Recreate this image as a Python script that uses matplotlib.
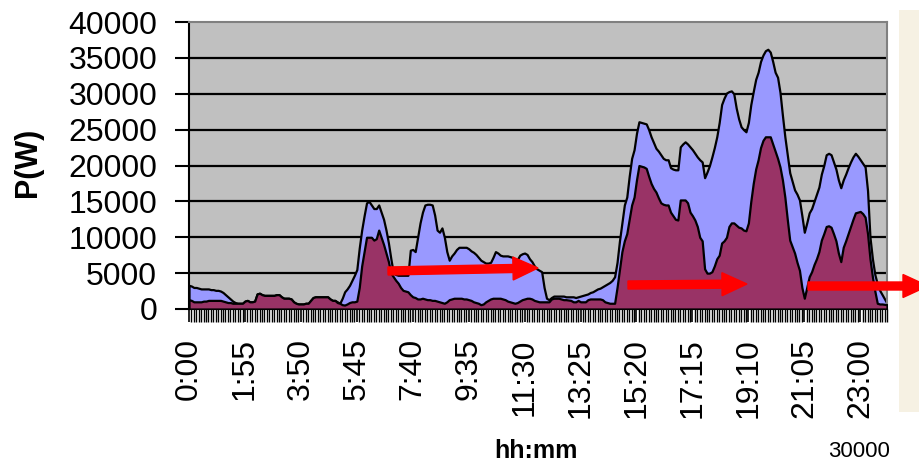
import matplotlib
matplotlib.use("Agg")
import matplotlib.pyplot as plt
from matplotlib.patches import FancyArrow, Rectangle
from matplotlib.transforms import IdentityTransform
import numpy as np

plt.rcParams['font.family'] = ['Liberation Sans', 'DejaVu Sans']

# 5-minute samples over one day
times = ['%d:%02d' % (m // 60, m % 60) for m in range(0, 1440, 5)]

total = [
    3300, 3200, 3000, 3000, 2900, 2800, 2800, 2800, 2800, 2700, 2700, 2600,
    2600, 2500, 2300, 2000, 1700, 1400, 1100, 900, 800, 800, 800, 1100,
    1200, 1000, 1000, 1100, 2100, 2200, 2000, 1900, 1900, 1900, 1900, 1900,
    2000, 2000, 1700, 1500, 1500, 1500, 1400, 1000, 800, 700, 700, 700,
    800, 800, 1200, 1600, 1700, 1700, 1700, 1700, 1700, 1700, 1400, 1200,
    1200, 1000, 800, 1500, 2400, 2800, 3300, 4000, 4700, 5500, 8500, 11000,
    13000, 14800, 15000, 14500, 14000, 14000, 14500, 13500, 12500, 11000, 9200, 7000,
    5000, 4800, 4700, 4700, 4700, 4700, 4700, 8200, 8300, 8000, 10000, 12000,
    13500, 14500, 14600, 14600, 14500, 13100, 11000, 10700, 11300, 10000, 8000, 6800,
    7400, 7800, 8300, 8600, 8600, 8600, 8600, 8400, 8100, 7900, 7600, 7200,
    6800, 6600, 6400, 6400, 6500, 7200, 8000, 7800, 7500, 7400, 7400, 7400,
    7300, 7200, 6800, 6900, 7500, 7700, 7800, 7600, 7000, 6600, 6000, 5600,
    5400, 5200, 3000, 1500, 1300, 1600, 1800, 1800, 1800, 1800, 1800, 1700,
    1700, 1700, 1700, 1600, 1700, 1800, 1900, 2000, 2100, 2300, 2400, 2600,
    2800, 2900, 3100, 3300, 3500, 3700, 4000, 4500, 6500, 9500, 12000, 14500,
    15600, 18500, 21000, 22200, 24500, 26100, 26000, 25900, 25800, 25000, 24000, 23200,
    22400, 22000, 21500, 21000, 20800, 20800, 19700, 19500, 19400, 19400, 22600, 23000,
    23300, 23000, 22600, 22200, 21700, 21200, 20800, 20500, 18300, 19100, 20000, 21200,
    22500, 24000, 26000, 28500, 29400, 30100, 30300, 30400, 30000, 28000, 26500, 25400,
    25000, 24700, 26000, 28500, 30300, 32000, 33000, 34500, 35400, 36000, 36200, 35800,
    34500, 33000, 32300, 30200, 27000, 24000, 21500, 19000, 17800, 16600, 16000, 15200,
    13000, 10700, 12000, 13400, 14000, 15000, 16000, 17000, 18800, 20000, 21500, 21700,
    21500, 20500, 19500, 18000, 16900, 18000, 18800, 19700, 20500, 21200, 21700, 21300,
    20800, 20300, 19800, 16500, 10000, 7000, 4800, 3500, 2600, 2000, 1400, 800,
]

part = [
    1300, 1200, 1000, 1000, 1000, 1000, 1100, 1100, 1200, 1200, 1200, 1200,
    1200, 1200, 1100, 1000, 900, 900, 800, 800, 800, 800, 800, 1100,
    1200, 1000, 1000, 1100, 2100, 2200, 2000, 1900, 1900, 1900, 1900, 1900,
    2000, 2000, 1700, 1500, 1500, 1500, 1400, 1000, 800, 700, 700, 700,
    800, 800, 1200, 1600, 1700, 1700, 1700, 1700, 1700, 1700, 1400, 1200,
    1200, 900, 800, 600, 550, 700, 900, 1000, 1000, 1100, 3000, 6000,
    8000, 10000, 10000, 10000, 9600, 9800, 11000, 10000, 9000, 7800, 6600, 5000,
    4500, 4000, 3600, 3000, 2600, 2500, 2400, 2000, 1700, 1600, 1400, 1400,
    1500, 1400, 1300, 1300, 1200, 1200, 1100, 1000, 900, 800, 1000, 1300,
    1400, 1500, 1500, 1500, 1500, 1400, 1400, 1300, 1200, 1000, 900, 800,
    600, 700, 1000, 1200, 1400, 1500, 1500, 1500, 1500, 1400, 1300, 1100,
    1000, 900, 800, 900, 1100, 1300, 1400, 1500, 1500, 1400, 1200, 1100,
    1000, 1000, 1000, 1000, 1000, 1400, 1500, 1500, 1500, 1400, 1300, 1300,
    1250, 1200, 1000, 1000, 1200, 1000, 1000, 1000, 1300, 1400, 1400, 1400,
    1400, 1400, 1300, 1000, 900, 800, 800, 800, 3000, 5500, 8000, 9500,
    10500, 12500, 14500, 15600, 18000, 20000, 19900, 19800, 19600, 18500, 17500, 16800,
    16300, 15500, 14800, 14600, 14500, 14500, 13500, 13000, 12500, 12400, 15200, 15200,
    15200, 14800, 13500, 13000, 12400, 11500, 10000, 9500, 5600, 5000, 5000, 5200,
    6000, 7000, 7500, 9200, 9500, 10000, 11500, 12000, 12000, 11700, 11400, 11300,
    11000, 10900, 12000, 15000, 17500, 19500, 20800, 22500, 23500, 24000, 24000, 24000,
    23000, 22000, 21000, 19800, 18000, 15600, 12500, 9600, 8700, 7800, 6500, 5400,
    3000, 1500, 3000, 4500, 5200, 6200, 7000, 8000, 9600, 10500, 11500, 11600,
    11400, 10500, 9500, 7800, 6600, 8600, 9500, 10500, 11500, 12500, 13400, 13500,
    13600, 13300, 12800, 10500, 7000, 4500, 2500, 800, 700, 700, 650, 600,
]

fig = plt.figure(figsize=(9.19, 4.66), dpi=100)
W, H = 919, 466

# faded photo strip on the right edge
fig.add_artist(Rectangle((899, H - 412), 30, 402, transform=IdentityTransform(),
                         facecolor='#F6F1E3', edgecolor='none', zorder=0))

ax = fig.add_axes([189 / W, 1 - 309 / H, 698 / W, 287 / H])
ax.set_facecolor('#C0C0C0')

x = np.arange(len(times))
ax.fill_between(x, total, 0, facecolor='#9999FF', edgecolor='black', linewidth=1.6, zorder=2)
ax.fill_between(x, part, 0, facecolor='#993366', edgecolor='black', linewidth=1.6, zorder=3)

ax.set_xlim(0, len(times) - 1)
ax.set_ylim(0, 40000)
ax.set_yticks(range(0, 40001, 5000))
for yv in range(5000, 40000, 5000):
    ax.axhline(yv, color='black', linewidth=1.6, zorder=1)

ax.set_xticks(x[::23])
ax.set_xticklabels(times[::23], rotation=90)
ax.set_xticks(x, minor=True)
ax.tick_params(axis='x', which='major', length=9, width=1.2, direction='out', pad=12, labelsize=23)
ax.tick_params(axis='x', which='minor', length=9, width=1.0, direction='out')
ax.tick_params(axis='y', length=10, width=1.5, direction='out', pad=13, labelsize=23)

for side in ['top', 'right']:
    ax.spines[side].set_color('#808080')
    ax.spines[side].set_linewidth(1.5)
for side in ['left', 'bottom']:
    ax.spines[side].set_color('black')
    ax.spines[side].set_linewidth(1.5)

fig.text(28 / W, 1 - 162 / H, 'P(W)', rotation=90, fontsize=22, fontweight='bold',
         ha='center', va='center')
fig.text(536 / W, 1 - 451 / H, 'hh:mm', fontsize=18, fontweight='bold',
         ha='center', va='center')
fig.text(828 / W, 1 - 462 / H, '30000', fontsize=16, ha='left', va='bottom')

# red arrows drawn over the chart
arrows = [((388, 271), (538, 268)), ((628, 285), (747, 284)), ((808, 286), (928, 286))]
for (x0, y0), (x1, y1) in arrows:
    fig.add_artist(FancyArrow(x0, H - y0, x1 - x0, -(y1 - y0), width=8, head_width=23,
                              head_length=25, length_includes_head=True,
                              color='#FF0000', transform=IdentityTransform(), zorder=10))

fig.savefig('out.png', dpi=100)
